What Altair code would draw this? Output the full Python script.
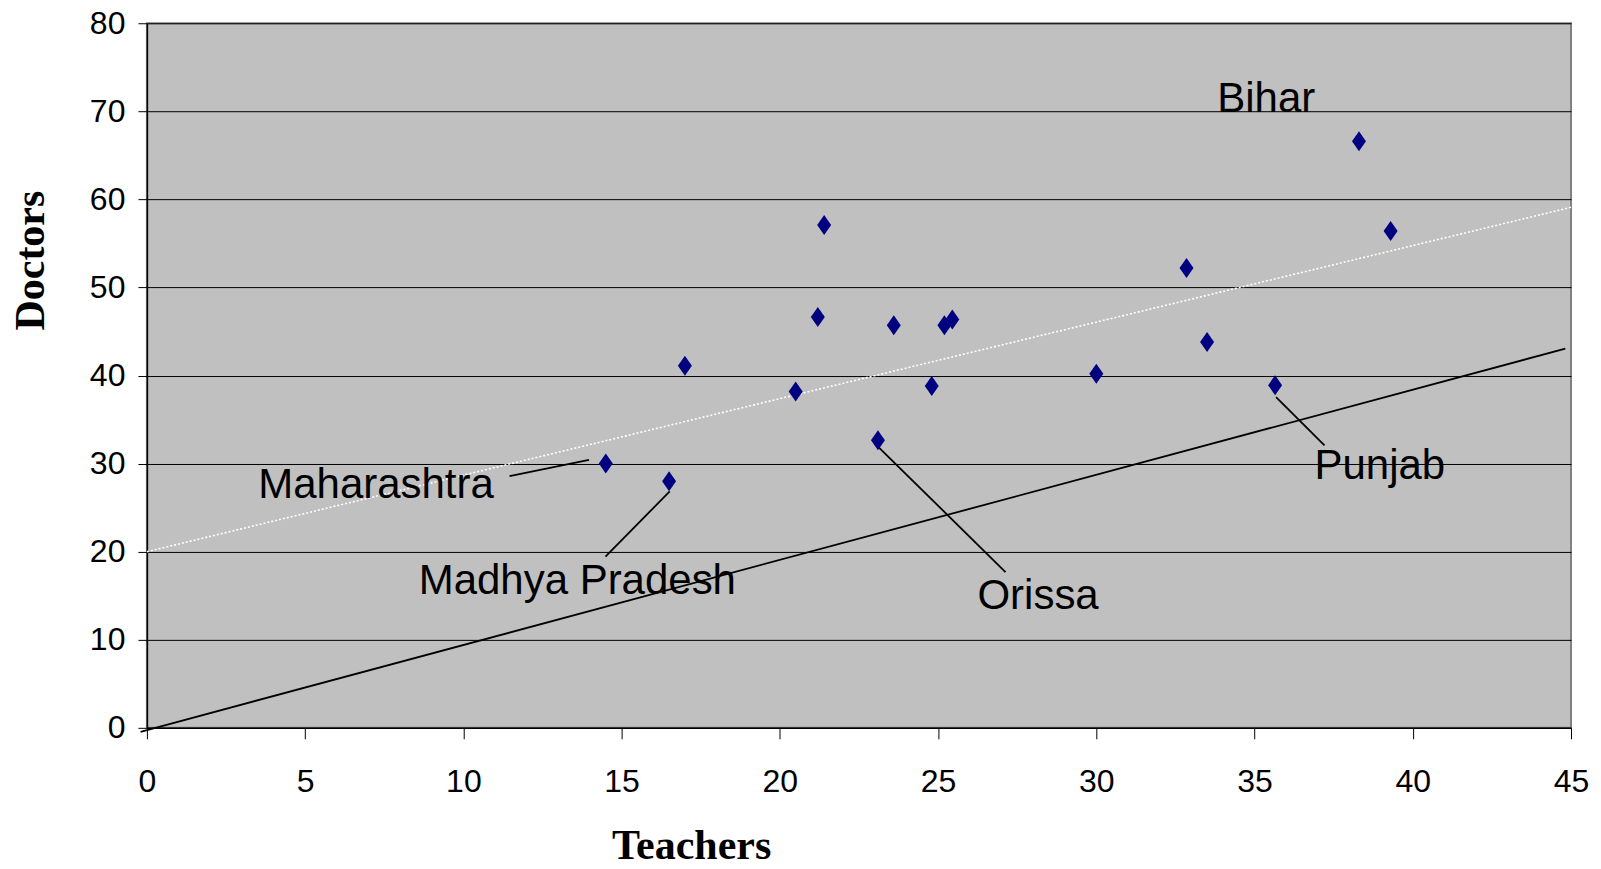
import altair as alt
import pandas as pd

# Scatter data (Teachers vs Doctors)
teachers = [14.5, 16.5, 17.0, 20.5, 21.2, 21.4, 23.1, 23.6, 24.8, 25.2, 25.45,
            30.0, 32.85, 33.5, 35.65, 38.3, 39.3]
doctors = [30.0, 28.0, 41.1, 38.2, 46.65, 57.1, 32.65, 45.7, 38.8, 45.7, 46.35,
           40.2, 52.2, 43.8, 38.9, 66.6, 56.4]

# Trend line (white dotted) and reference line (black)
trend_x = [0, 45]
trend_y = [20.0, 59.1]
ref_x = [-0.2, 44.82]
ref_y = [-0.45, 43.05]

# Annotation labels
label_text = ["Bihar", "Maharashtra", "Madhya Pradesh", "Orissa", "Punjab"]
label_x = [35.37, 7.24, 13.6, 28.16, 38.96]
label_y = [69.9, 26.1, 15.2, 13.5, 28.2]

# Leader lines
leader_x = [11.46, 14.49, 23.1, 35.68]
leader_y = [28.58, 19.43, 31.94, 37.56]
leader_x2 = [13.97, 16.52, 27.13, 37.21]
leader_y2 = [30.43, 26.85, 17.69, 32.08]

x_ticks = [0, 5, 10, 15, 20, 25, 30, 35, 40, 45]
y_ticks = [0, 10, 20, 30, 40, 50, 60, 70, 80]

pts = pd.DataFrame({"Teachers": teachers, "Doctors": doctors})
trend = pd.DataFrame({"x": trend_x, "y": trend_y})
ref = pd.DataFrame({"x": ref_x, "y": ref_y})
labels = pd.DataFrame({"t": label_text, "x": label_x, "y": label_y})
leaders = pd.DataFrame({"x": leader_x, "y": leader_y, "x2": leader_x2, "y2": leader_y2})

tick_font = "Liberation Sans"

xscale = alt.Scale(domain=[0, 45], nice=False, zero=False)
yscale = alt.Scale(domain=[0, 80], nice=False, zero=False)

xaxis = alt.Axis(values=x_ticks, grid=False, title="Teachers",
                 titleFont="Liberation Serif", titleFontSize=42, titleFontWeight="bold",
                 titleColor="black", titleX=544.5, titleY=131, titleAlign="center",
                 titleBaseline="alphabetic",
                 labelFont=tick_font, labelFontSize=32, labelColor="black",
                 labelPadding=28, tickSize=11, tickColor="black",
                 domainColor="black", domainWidth=1.5, labelFlush=False)
yaxis = alt.Axis(values=y_ticks, grid=True, gridColor="black", gridWidth=1,
                 title="Doctors",
                 titleFont="Liberation Serif", titleFontSize=42, titleFontWeight="bold",
                 titleColor="black", titleX=-103, titleY=237, titleAngle=270,
                 titleAlign="center", titleBaseline="alphabetic",
                 labelFont=tick_font, labelFontSize=32, labelColor="black",
                 labelPadding=13, tickSize=9, tickColor="black",
                 domainColor="black", domainWidth=1.5, labelFlush=False)

base_pts = alt.Chart(pts).mark_point(
    shape="M0,-1L0.7,0L0,1L-0.7,0Z", filled=True, color="#000080",
    size=400, opacity=1
).encode(
    x=alt.X("Teachers:Q", scale=xscale, axis=xaxis),
    y=alt.Y("Doctors:Q", scale=yscale, axis=yaxis),
)

trend_line = alt.Chart(trend).mark_line(
    color="white", strokeDash=[2, 2], strokeWidth=1.6
).encode(x=alt.X("x:Q", scale=xscale), y=alt.Y("y:Q", scale=yscale))

ref_line = alt.Chart(ref).mark_line(color="black", strokeWidth=1.8).encode(
    x=alt.X("x:Q", scale=xscale), y=alt.Y("y:Q", scale=yscale))

leader_rules = alt.Chart(leaders).mark_rule(color="black", strokeWidth=1.8).encode(
    x=alt.X("x:Q", scale=xscale), y=alt.Y("y:Q", scale=yscale),
    x2="x2:Q", y2="y2:Q")

label_marks = alt.Chart(labels).mark_text(
    font="Liberation Sans", fontSize=42, color="black",
    align="center", baseline="alphabetic"
).encode(x=alt.X("x:Q", scale=xscale), y=alt.Y("y:Q", scale=yscale), text="t:N")

chart = alt.layer(trend_line, ref_line, leader_rules, base_pts, label_marks).properties(
    width=1425, height=705,
    background="white",
    autosize=alt.AutoSizeParams(type="none"),
    padding={"left": 139, "top": 15, "right": 22, "bottom": 145},
).configure_view(
    fill="#C0C0C0", stroke="#808080", strokeWidth=2
)

chart.save("out.html", embed_options={"renderer": "svg", "actions": False})
